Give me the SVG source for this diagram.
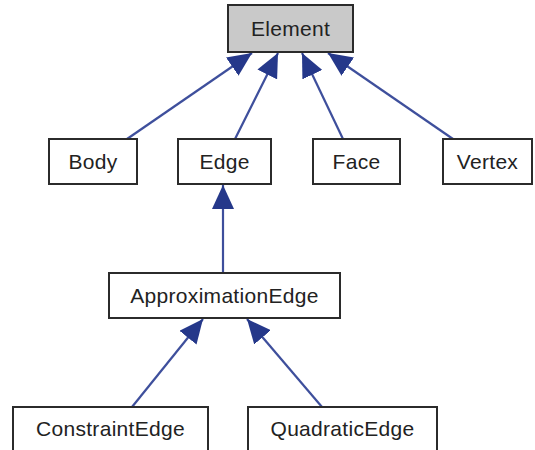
<svg xmlns="http://www.w3.org/2000/svg" width="535" height="450" viewBox="0 0 535 450">
<style>
.box{fill:#fff;stroke:#2b2b2b;stroke-width:2}
.root{fill:#c9c9c9}
.t{font-family:"Liberation Sans",Arial,sans-serif;font-size:21px;fill:#222;text-anchor:middle;letter-spacing:0.3px}
.c{stroke:#3e4f9c;stroke-width:2.2;fill:none;marker-end:url(#tri)}
</style>
<defs>
<marker id="tri" viewBox="0 0 24 22" refX="24" refY="11" markerWidth="24" markerHeight="22" markerUnits="userSpaceOnUse" orient="auto">
<path d="M0,0 L24,11 L0,22 Z" fill="#25388a"/>
</marker>
</defs>
<rect width="535" height="450" fill="#fff"/>
<g id="connectors">
<line class="c" x1="127" y1="139" x2="252" y2="53"/>
<line class="c" x1="235" y1="139" x2="278" y2="53"/>
<line class="c" x1="343" y1="139" x2="302" y2="53"/>
<line class="c" x1="453" y1="139" x2="328" y2="53"/>
<line class="c" x1="223" y1="273" x2="223" y2="185"/>
<line class="c" x1="132" y1="407" x2="203" y2="319"/>
<line class="c" x1="322" y1="407" x2="247" y2="319"/>
</g>
<g id="Element"><rect class="box root" x="228" y="5" width="125" height="47"/><text class="t" x="290.5" y="36">Element</text></g>
<g id="Body"><rect class="box" x="49" y="139" width="88" height="45"/><text class="t" x="93" y="169">Body</text></g>
<g id="Edge"><rect class="box" x="178" y="139" width="93" height="45"/><text class="t" x="224.5" y="169">Edge</text></g>
<g id="Face"><rect class="box" x="313" y="139" width="87" height="45"/><text class="t" x="356.5" y="169">Face</text></g>
<g id="Vertex"><rect class="box" x="443" y="139" width="89" height="45"/><text class="t" x="487.5" y="169">Vertex</text></g>
<g id="ApproximationEdge"><rect class="box" x="109" y="273" width="231" height="45"/><text class="t" x="224.5" y="303">ApproximationEdge</text></g>
<g id="ConstraintEdge"><rect class="box" x="13" y="407" width="195" height="50"/><text class="t" x="110.5" y="436">ConstraintEdge</text></g>
<g id="QuadraticEdge"><rect class="box" x="248" y="407" width="189" height="50"/><text class="t" x="342.5" y="436">QuadraticEdge</text></g>
</svg>
